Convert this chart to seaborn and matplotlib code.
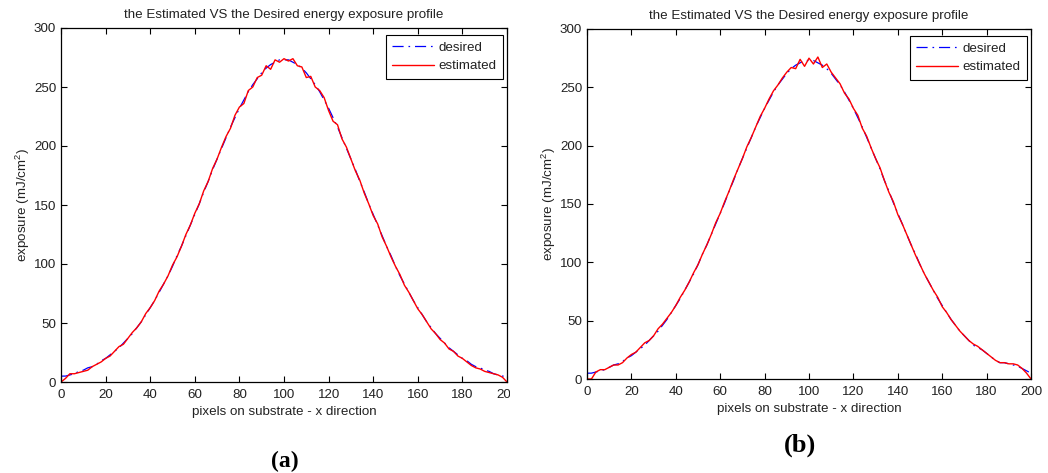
import matplotlib
matplotlib.use("Agg")
import matplotlib.pyplot as plt
from matplotlib.transforms import Bbox, TransformedBbox
import numpy as np
import pandas as pd
import seaborn as sns

# pixel positions across the substrate (x direction)
pixels = list(range(0, 201, 2))

# desired energy exposure profile (mJ/cm^2), panel (a)
desired_a = [5, 5, 6, 7, 9, 10, 12, 13, 15, 18,
             20, 23, 26, 29, 33, 37, 41, 46, 51, 57,
             63, 69, 76, 83, 90, 98, 107, 115, 124, 133,
             142, 151, 161, 170, 180, 189, 198, 207, 216, 224,
             232, 239, 246, 252, 257, 262, 266, 269, 271, 273,
             273,
             273, 271, 269, 266, 262, 257, 252, 246, 239, 232,
             224, 216, 207, 198, 189, 180, 170, 161, 151, 142,
             133, 124, 115, 107, 98, 90, 83, 76, 69, 63,
             57, 51, 46, 41, 37, 33, 29, 26, 23, 20,
             18, 15, 13, 12, 10, 9, 7, 6, 5, 5]

# estimated exposure, panel (a)
estimated_a = [0, 3, 7, 7, 8, 9, 10, 13, 15, 17,
               20, 22, 26, 30, 32, 37, 42, 46, 51, 58,
               63, 69, 77, 83, 90, 99, 106, 115, 125, 133,
               143, 151, 162, 170, 181, 189, 199, 208, 215, 226,
               233, 236, 247, 250, 258, 260, 268, 265, 273, 271,
               274,
               272, 274, 268, 267, 258, 259, 250, 247, 241, 230,
               221, 218, 206, 199, 189, 179, 171, 160, 151, 141,
               134, 123, 115, 106, 98, 91, 82, 76, 69, 62,
               57, 51, 45, 41, 36, 33, 28, 26, 22, 20,
               17, 14, 12, 11, 9, 8, 7, 6, 4, 0]

# desired energy exposure profile (mJ/cm^2), panel (b)
desired_b = [5, 5, 6, 7, 8, 10, 12, 13, 15, 18,
             20, 23, 26, 29, 33, 37, 41, 46, 51, 57,
             63, 69, 76, 83, 90, 98, 107, 115, 124, 133,
             142, 151, 161, 170, 180, 189, 198, 207, 216, 224,
             232, 239, 246, 252, 257, 262, 266, 269, 271, 273,
             273,
             273, 271, 269, 266, 262, 257, 252, 246, 239, 232,
             224, 216, 207, 198, 189, 180, 170, 161, 151, 142,
             133, 124, 115, 107, 98, 90, 83, 76, 69, 63,
             57, 51, 46, 41, 37, 33, 29, 27, 25, 22,
             19, 16, 14, 14, 13, 12, 11, 9, 7, 5]

# estimated exposure, panel (b)
estimated_b = [0, 0, 6, 8, 8, 10, 12, 12, 14, 18,
               21, 23, 27, 31, 33, 37, 43, 47, 52, 57,
               63, 70, 76, 83, 91, 98, 107, 115, 124, 134,
               142, 152, 161, 171, 180, 189, 199, 207, 216, 225,
               232, 240, 247, 252, 258, 263, 267, 266, 274, 268,
               275,
               270, 276, 267, 270, 263, 258, 253, 245, 240, 232,
               226, 215, 208, 198, 189, 181, 170, 160, 152, 141,
               133, 124, 115, 106, 98, 90, 83, 76, 70, 62,
               57, 51, 46, 41, 37, 33, 30, 28, 25, 22,
               19, 16, 14, 14, 13, 13, 12, 9, 5, 0]

x_ticks = list(range(0, 201, 20))
y_ticks = list(range(0, 301, 50))
title = "the Estimated VS the Desired energy exposure profile"
x_label = "pixels on substrate - x direction"
y_label = "exposure (mJ/cm$^2$)"

sns.set_style("ticks")
plt.rcParams["font.family"] = ["Liberation Sans", "DejaVu Sans"]
plt.rcParams["mathtext.fontset"] = "custom"
plt.rcParams["mathtext.rm"] = "Liberation Sans"
plt.rcParams["mathtext.it"] = "Liberation Sans:italic"
plt.rcParams["lines.scale_dashes"] = False

W, H = 1048, 473
fig = plt.figure(figsize=(W / 100, H / 100), dpi=100)
fig.patch.set_facecolor("white")

TXT = "#222222"
FS = 9.6


def draw_panel(ax, des, est, ax_w_px, ax_h_px):
    df = pd.DataFrame({"x": pixels, "desired": des, "estimated": est})
    sns.lineplot(data=df, x="x", y="desired", ax=ax, color="#0000ff",
                 linewidth=0.9, linestyle=(0, (8, 3.5, 1.2, 3.5)),
                 label="desired")
    sns.lineplot(data=df, x="x", y="estimated", ax=ax, color="#ff0000",
                 linewidth=1.0, label="estimated")
    ax.set_xlim(0, 200)
    ax.set_ylim(0, 300)
    ax.set_xticks(x_ticks)
    ax.set_yticks(y_ticks)
    ax.tick_params(direction="in", length=4, width=0.8, top=True, right=True,
                   labelsize=FS, labelcolor=TXT, color="black", pad=3.5)
    ax.tick_params(axis="x", pad=5)
    for s in ax.spines.values():
        s.set_visible(True)
        s.set_linewidth(0.9)
        s.set_color("black")
    ax.set_title(title, fontsize=FS, color=TXT, pad=7)
    ax.set_xlabel(x_label, fontsize=FS, color=TXT)
    ax.set_ylabel(y_label, fontsize=FS, color=TXT)
    ax.xaxis.set_label_coords(0.5, -24 / ax_h_px)
    ax.yaxis.set_label_coords(-29 / ax_w_px, 0.5)
    leg = ax.legend(loc="upper right",
                    bbox_to_anchor=(1 - 4 / ax_w_px, 1 - 7 / ax_h_px),
                    borderaxespad=0, frameon=True, fancybox=False,
                    framealpha=1, edgecolor="black", fontsize=FS,
                    handlelength=3.1, handletextpad=0.35, borderpad=0.5,
                    labelspacing=0.45)
    leg.get_frame().set_linewidth(0.8)
    for t in leg.get_texts():
        t.set_color(TXT)


ax_a = fig.add_axes([61 / W, (H - 382) / H, 446 / W, 354 / H])
draw_panel(ax_a, desired_a, estimated_a, 446, 354)
ax_b = fig.add_axes([587 / W, (H - 379) / H, 444 / W, 350 / H])
draw_panel(ax_b, desired_b, estimated_b, 444, 350)

# the left panel is cut off just past its right spine
clip = TransformedBbox(Bbox([[0, 0], [510 / W, 1]]), fig.transFigure)
for tick in ax_a.xaxis.get_major_ticks():
    tick.label1.set_clip_box(clip)
    tick.label1.set_clip_on(True)

fig.text(285 / W, 1 - 461 / H, "(a)", ha="center", va="center",
         fontfamily="Liberation Serif", fontweight="bold", fontsize=17,
         color="black")
fig.text(800 / W, 1 - 445 / H, "(b)", ha="center", va="center",
         fontfamily="Liberation Serif", fontweight="bold", fontsize=19,
         color="black")

fig.savefig("out.png", dpi=100)
